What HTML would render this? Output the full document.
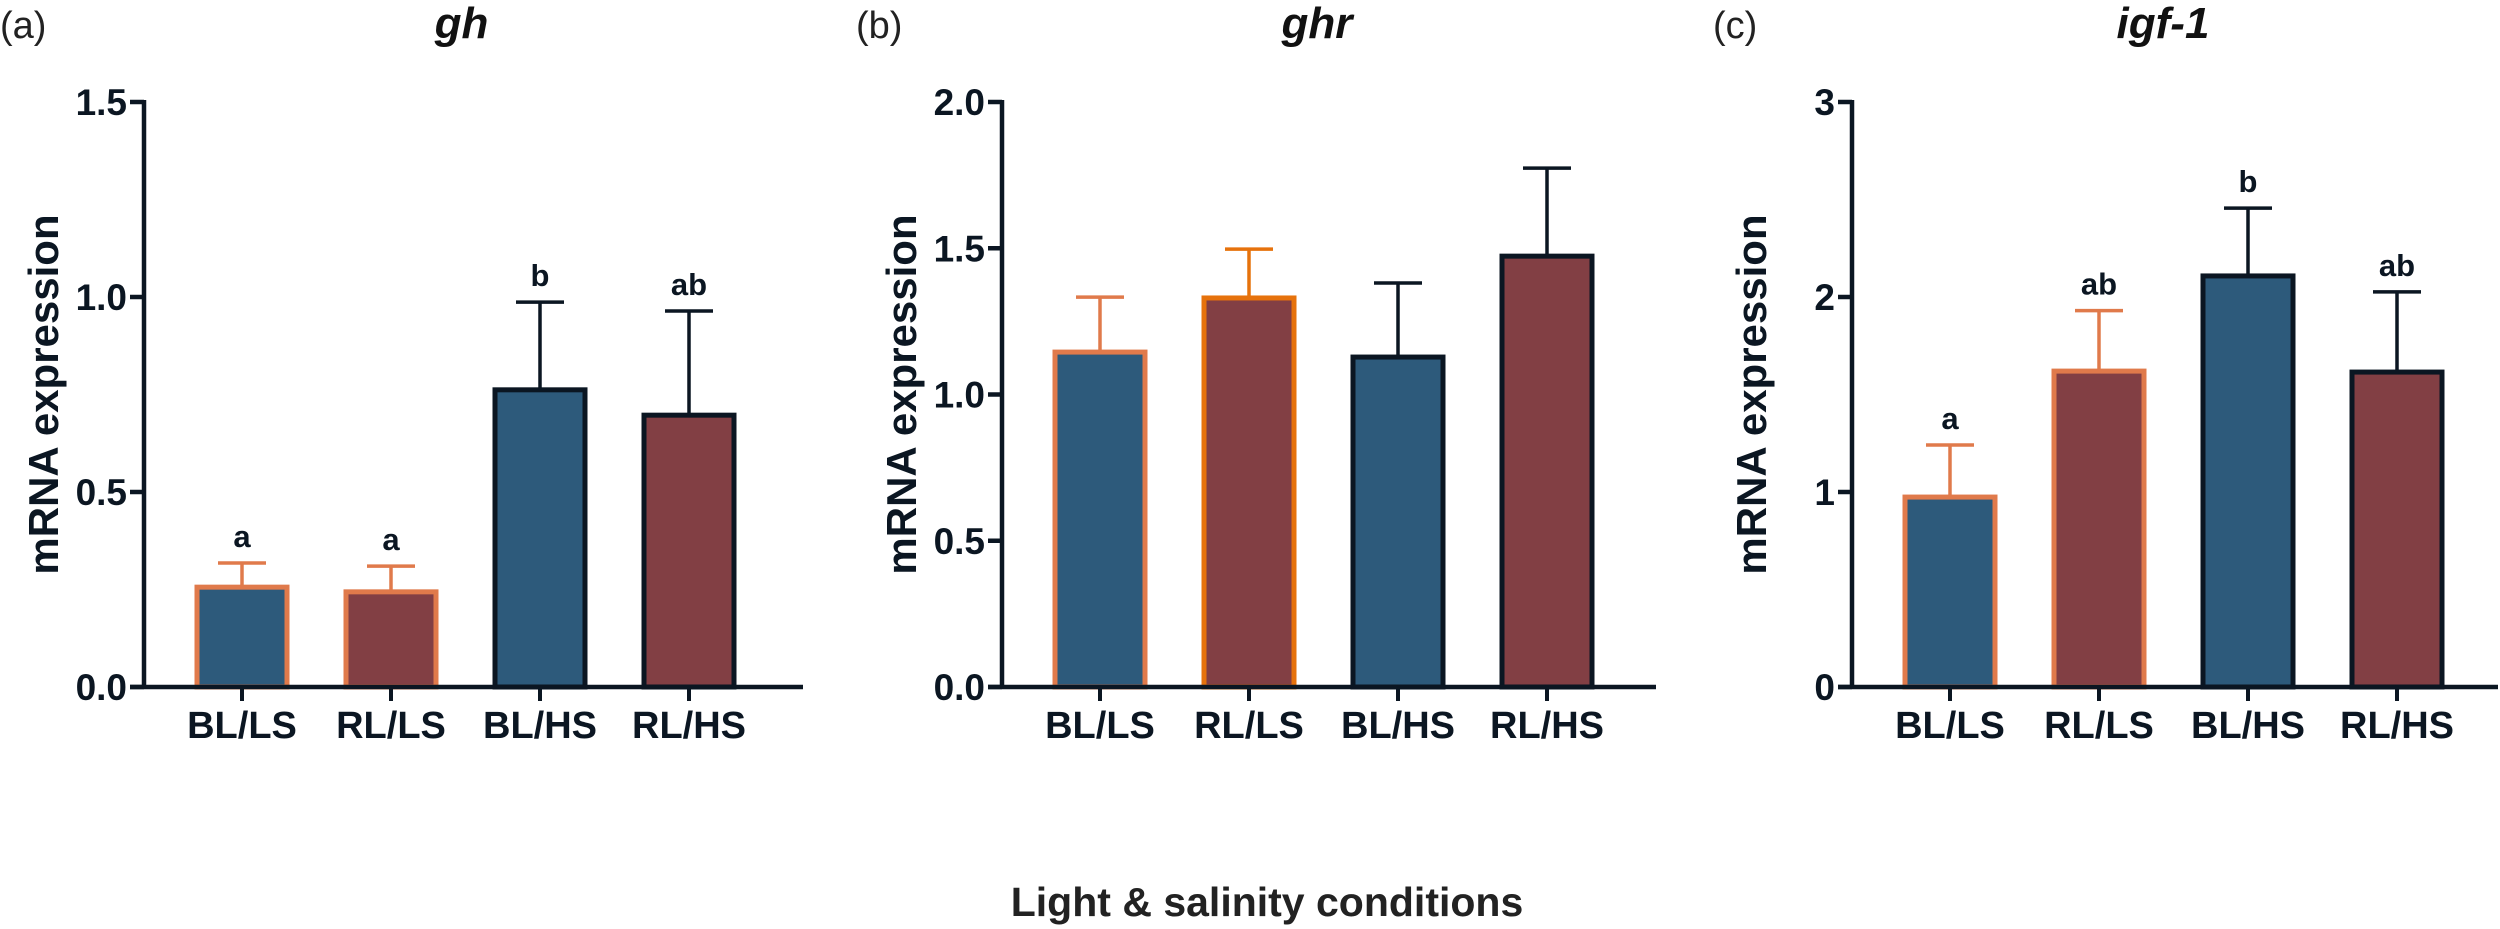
<!DOCTYPE html>
<html><head><meta charset="utf-8"><style>
html,body{margin:0;padding:0;background:#fff}
svg{display:block}
text{font-family:"Liberation Sans",Arial,sans-serif}
</style></head><body>
<svg id="fig" width="2500" height="929" xmlns="http://www.w3.org/2000/svg"></svg>
<script>
const categories = ["BL/LS","RL/LS","BL/HS","RL/HS"];
const ghMeans = [0.256, 0.244, 0.762, 0.697];
const ghErr = [0.062, 0.066, 0.225, 0.267];
const ghLetters = ["a","a","b","ab"];
const ghTicks = ["0.0","0.5","1.0","1.5"];
const ghrMeans = [1.145, 1.33, 1.128, 1.473];
const ghrErr = [0.188, 0.167, 0.253, 0.301];
const ghrLetters = ["","","",""];
const ghrTicks = ["0.0","0.5","1.0","1.5","2.0"];
const igfMeans = [0.974, 1.62, 2.108, 1.615];
const igfErr = [0.267, 0.31, 0.348, 0.411];
const igfLetters = ["a","ab","b","ab"];
const igfTicks = ["0","1","2","3"];

const NS="http://www.w3.org/2000/svg";
const svg=document.getElementById('fig');
function mk(tag,attrs,parent){const e=document.createElementNS(NS,tag);for(const k in attrs)e.setAttribute(k,attrs[k]);(parent||svg).appendChild(e);return e;}
const BLUE="#2d5a7b", RED="#823f44", INK="#0b1622", OR1="#e07a4b", OR2="#e6720c";
const Y0=687, YTOP=102;
const panels=[
 {key:"gh",title:"gh",label:"(a)",lx:0,axis:144,end:803,max:1.5,ticks:ghTicks,means:ghMeans,err:ghErr,letters:ghLetters,outline:[OR1,OR1,INK,INK]},
 {key:"ghr",title:"ghr",label:"(b)",lx:856,axis:1002,end:1656,max:2.0,ticks:ghrTicks,means:ghrMeans,err:ghrErr,letters:ghrLetters,outline:[OR1,OR2,INK,INK]},
 {key:"igf",title:"igf-1",label:"(c)",lx:1713,axis:1852,end:2498,max:3,ticks:igfTicks,means:igfMeans,err:igfErr,letters:igfLetters,outline:[OR1,OR1,INK,INK]}
];
panels.forEach(p=>{
  const g=mk('g',{});
  
  
  const y=v=>Y0-(v/p.max)*(Y0-YTOP);
  const x=i=>p.axis+98+i*149;
  const lab=mk('text',{x:p.lx,y:38,'font-size':38,fill:'#222'},g);lab.textContent=p.label;
  
  
  const t=mk('text',{x:(p.axis+p.end)/2-12,y:38,'font-size':44,'font-weight':'bold','font-style':'italic','text-anchor':'middle',fill:'#111'},g);t.textContent=p.title;
  
  
  const yl=mk('text',{x:0,y:0,'font-size':42,'font-weight':'bold','text-anchor':'middle',fill:INK,transform:`translate(${p.axis-86},${(Y0+YTOP)/2}) rotate(-90)`},g);yl.textContent="mRNA expression";
  
  
  categories.forEach((c,i)=>{
    const cx=x(i), top=y(p.means[i]), wt=y(p.means[i]+p.err[i]);
    const col=p.outline[i];
    const eb=mk('g',{},g);
    
    
    mk('line',{x1:cx,x2:cx,y1:top,y2:wt,stroke:col,'stroke-width':3.5},eb);
    mk('line',{x1:cx-24,x2:cx+24,y1:wt,y2:wt,stroke:col,'stroke-width':3.5},eb);
    const r=mk('rect',{x:cx-45,y:top,width:90,height:Y0-top,fill:i%2?RED:BLUE,stroke:col,'stroke-width':5},g);
    
    
    if(p.letters[i]){
      const l=mk('text',{x:cx,y:wt-16,'font-size':31,'font-weight':'bold','text-anchor':'middle',fill:INK},g);l.textContent=p.letters[i];
      
      
    }
    mk('line',{x1:cx,x2:cx,y1:Y0,y2:Y0+14,stroke:INK,'stroke-width':4},g);
    const xt=mk('text',{x:cx,y:Y0+51,'font-size':38,'font-weight':'bold','text-anchor':'middle',fill:INK},g);xt.textContent=c;
    
    
  });
  const ya=mk('line',{x1:p.axis,x2:p.axis,y1:YTOP-2,y2:Y0+2,stroke:INK,'stroke-width':4.5},g);
  
  
  const xa=mk('line',{x1:p.axis-14,x2:p.end,y1:Y0,y2:Y0,stroke:INK,'stroke-width':4.5},g);
  
  
  p.ticks.forEach((tk,j)=>{
    const v=parseFloat(tk), ty=y(v);
    mk('line',{x1:p.axis-14,x2:p.axis,y1:ty,y2:ty,stroke:INK,'stroke-width':4.5},g);
    const tl=mk('text',{x:p.axis-17,y:ty+13,'font-size':37,'font-weight':'bold','text-anchor':'end',fill:INK},g);tl.textContent=tk;
    
    
  });
});
const xt=mk('text',{x:1267,y:916,'font-size':41,'font-weight':'bold','text-anchor':'middle',fill:'#222'});
xt.textContent="Light & salinity conditions";


</script>
</body></html>
